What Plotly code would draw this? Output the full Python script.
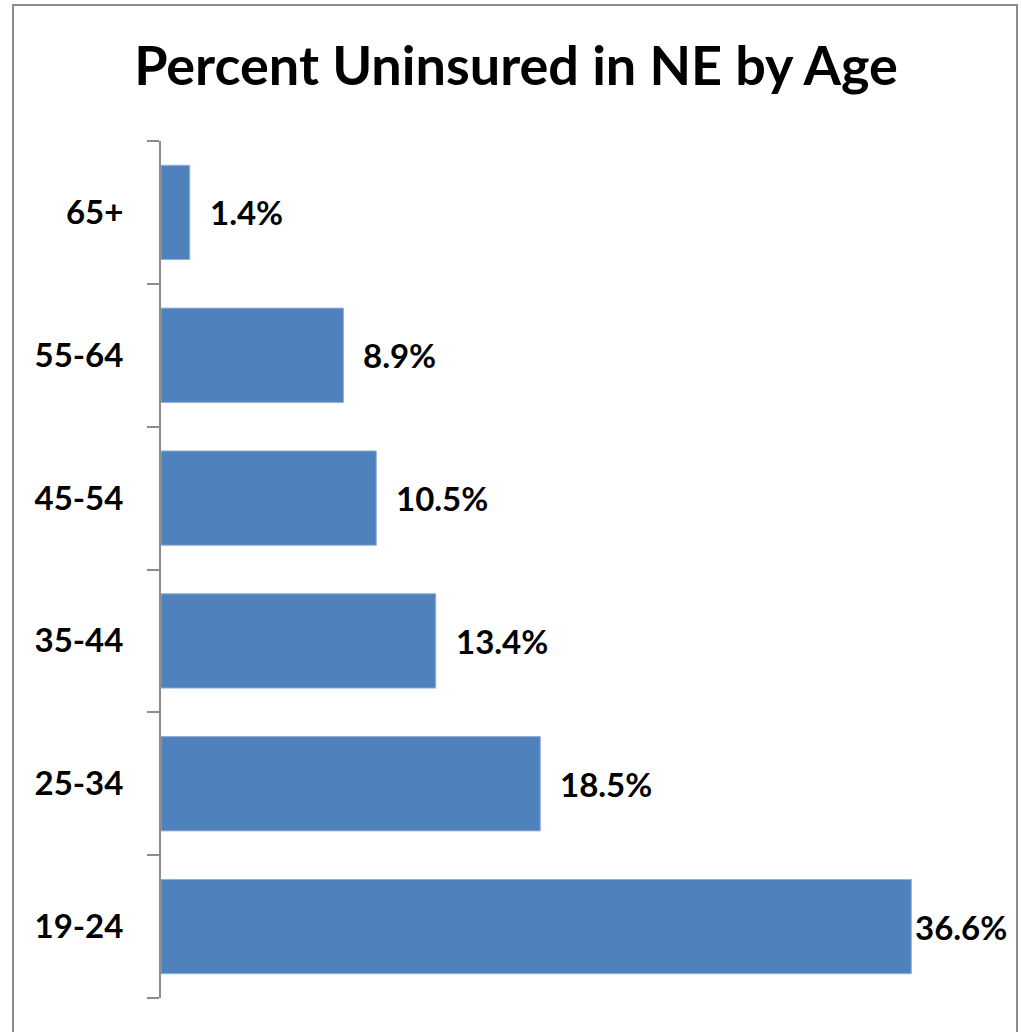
import plotly.graph_objects as go

categories = ["19-24", "25-34", "35-44", "45-54", "55-64", "65+"]
values = [36.6, 18.5, 13.4, 10.5, 8.9, 1.4]
labels = ["36.6%", "18.5%", "13.4%", "10.5%", "8.9%", "1.4%"]
label_shift = [2, 18, 18, 18, 18, 18]

W, H = 1021, 1032
L, R, T, B = 161, 40, 141, 34
pw, ph = W - L - R, H - T - B

fig = go.Figure()
fig.add_trace(go.Bar(
    y=categories, x=values, orientation="h", width=0.66,
    marker=dict(color="#4F81BD", line=dict(color="#8fb0d8", width=1)),
    hoverinfo="skip",
))
for c, v, t, s in zip(categories, values, labels, label_shift):
    fig.add_annotation(x=v, y=c, xref="x", yref="y", text=t, showarrow=False,
                       xanchor="left", yanchor="middle", xshift=s,
                       font=dict(family="Lato", size=33, color="black", weight="bold"))

fig.add_shape(type="rect", xref="paper", yref="paper",
              x0=(13 - L) / pw, x1=(1017 - L) / pw,
              y0=-(H + 10 - (T + ph)) / ph, y1=(T + ph - 5) / ph,
              line=dict(color="#8c8c8c", width=2), fillcolor="rgba(0,0,0,0)", layer="below")

fig.update_layout(
    width=W, height=H, margin=dict(l=L, r=R, t=T, b=B),
    paper_bgcolor="white", plot_bgcolor="white", showlegend=False,
    title=dict(text="Percent Uninsured in NE by Age", x=516 / W, xref="container", xanchor="center",
               y=1 - 66 / H, yref="container", yanchor="middle",
               font=dict(family="Lato", size=54, color="black", weight="bold")),
    xaxis=dict(visible=False, range=[0, 40]),
    yaxis=dict(categoryorder="array", categoryarray=categories, range=[-0.5, 5.5],
               showline=True, linecolor="#8c8c8c", linewidth=2,
               ticks="outside", ticklen=12, tickwidth=2, tickcolor="#8c8c8c",
               tickson="boundaries", showgrid=False, ticklabelstandoff=29,
               tickfont=dict(family="Lato", size=33, color="black", weight="bold")),
)
fig.write_html("out.html", config={"displayModeBar": False},
               post_script="document.body.style.margin='0';document.body.style.overflow='hidden';")
